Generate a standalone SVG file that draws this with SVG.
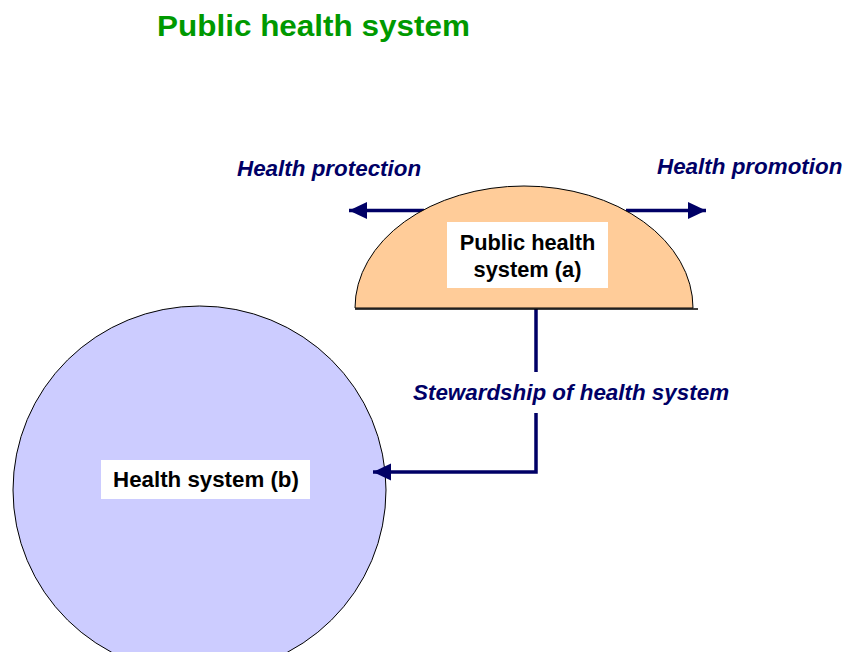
<svg xmlns="http://www.w3.org/2000/svg" width="845" height="652" viewBox="0 0 845 652">
<style>
.lbl{font-family:"Liberation Sans",Arial,sans-serif;font-weight:bold;fill:#000;font-size:21.8px;text-anchor:middle}
.conn{font-family:"Liberation Sans",Arial,sans-serif;font-weight:bold;font-style:italic;fill:#000066;font-size:22.4px}
.line{stroke:#000066;stroke-width:3.5;fill:none}
.box{fill:#fff}
</style>
<defs>
<marker id="ah" markerUnits="userSpaceOnUse" markerWidth="19" markerHeight="18" refX="18" refY="8.5" orient="auto">
<path d="M0,0 L18,8.5 L0,17 Z" fill="#000066"/>
</marker>
</defs>
<rect width="845" height="652" fill="#fff"/>
<text x="157" y="36" font-family="Liberation Sans, Arial, sans-serif" font-weight="bold" font-size="30" fill="#009900" textLength="313" lengthAdjust="spacingAndGlyphs">Public health system</text>
<g id="health-system-b">
<ellipse cx="199.5" cy="490" rx="186.5" ry="184" fill="#CCCCFF" stroke="#000" stroke-width="1"/>
<rect class="box" x="101" y="460" width="209" height="39"/>
<text class="lbl" x="206" y="487" style="font-size:22.3px">Health system (b)</text>
</g>
<g id="connectors">
<line class="line" x1="424" y1="210.5" x2="349" y2="210.5" marker-end="url(#ah)"/>
<line class="line" x1="626" y1="210.5" x2="706" y2="210.5" marker-end="url(#ah)"/>
<polyline class="line" points="536,309 536,372"/>
<polyline class="line" points="536,413 536,472 373,472" marker-end="url(#ah)"/>
</g>
<g id="public-health-system-a">
<path d="M355,308 A169,122 0 0 1 693,308 Z" fill="#FFCC99" stroke="#000" stroke-width="1"/>
<line x1="355" y1="309" x2="698" y2="309" stroke="#000" stroke-width="1.5"/>
<rect class="box" x="447" y="222" width="161" height="66"/>
<text class="lbl" x="527.5" y="250">Public health</text>
<text class="lbl" x="527.5" y="277">system (a)</text>
</g>
<g id="labels">
<text class="conn" x="237" y="176">Health protection</text>
<text class="conn" x="657" y="174">Health promotion</text>
<text class="conn" x="413" y="400">Stewardship of health system</text>
</g>
</svg>
